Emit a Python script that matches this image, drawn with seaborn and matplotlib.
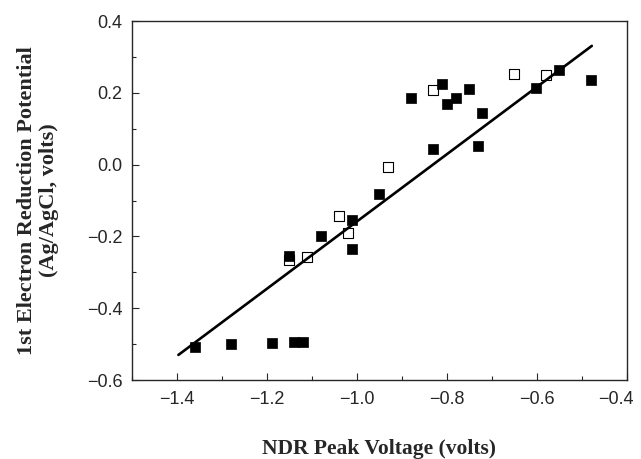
import numpy as np
import pandas as pd
import matplotlib
matplotlib.use("Agg")
import matplotlib.pyplot as plt
from matplotlib.ticker import MultipleLocator
import seaborn as sns

# filled squares
filled_x = [-1.360, -1.280, -1.190, -1.139, -1.119, -1.150, -1.080, -1.010, -1.010,
            -0.950, -0.880, -0.810, -0.801, -0.780, -0.750, -0.722, -0.830, -0.730,
            -0.601, -0.552, -0.480]
filled_y = [-0.507, -0.500, -0.498, -0.495, -0.495, -0.255, -0.199, -0.154, -0.235,
            -0.083, 0.185, 0.225, 0.168, 0.186, 0.210, 0.143, 0.043, 0.052,
            0.213, 0.263, 0.235]

# open squares
open_x = [-1.150, -1.110, -1.040, -1.019, -0.930, -0.830, -0.650, -0.580]
open_y = [-0.265, -0.258, -0.143, -0.189, -0.006, 0.208, 0.254, 0.249]

# fitted line end points
line_x = [-1.397, -0.478]
line_y = [-0.530, 0.331]

filled = pd.DataFrame({"x": filled_x, "y": filled_y})
opened = pd.DataFrame({"x": open_x, "y": open_y})
fit = pd.DataFrame({"x": line_x, "y": line_y})

sns.set_style("ticks")
plt.rcParams["font.family"] = ["Liberation Sans", "DejaVu Sans"]

fig = plt.figure(figsize=(6.41, 4.59), dpi=100)
ax = fig.add_axes([0.206, 0.172, 0.772, 0.782])

sns.scatterplot(data=opened, x="x", y="y", marker="s", s=55, color="white",
                edgecolor="black", linewidth=0.8, ax=ax, zorder=2)
sns.scatterplot(data=filled, x="x", y="y", marker="s", s=55, color="black",
                edgecolor="black", linewidth=0.5, ax=ax, zorder=3)
sns.lineplot(data=fit, x="x", y="y", color="black", linewidth=1.9, ax=ax,
             zorder=4)

ax.set_xlim(-1.5, -0.4)
ax.set_ylim(-0.6, 0.4)
ax.xaxis.set_major_locator(MultipleLocator(0.2))
ax.xaxis.set_minor_locator(MultipleLocator(0.1))
ax.yaxis.set_major_locator(MultipleLocator(0.2))
ax.yaxis.set_minor_locator(MultipleLocator(0.1))
ax.tick_params(which="both", direction="in", top=False, right=False,
               labelsize=13, width=0.8)
ax.tick_params(which="major", length=5)
ax.tick_params(axis="y", pad=7)
ax.tick_params(axis="x", pad=8)
ax.tick_params(which="minor", length=3)
for sp in ax.spines.values():
    sp.set_linewidth(1.0)
    sp.set_visible(True)


def fmt_x(v, p):
    # the last label is drawn by hand so it stays inside the figure
    if abs(v + 0.4) < 1e-6:
        return ""
    return f"{v:.1f}".replace("-", "\u2212")


ax.xaxis.set_major_formatter(plt.FuncFormatter(fmt_x))
ax.yaxis.set_major_formatter(plt.FuncFormatter(lambda v, p: f"{v:.1f}".replace("-", "\u2212")))
ax.annotate("\u22120.4", xy=(-0.4, 0), xycoords=("data", "axes fraction"),
            xytext=(-8, -8), textcoords="offset points", ha="center", va="top",
            fontsize=13)

ax.set_xlabel("NDR Peak Voltage (volts)", fontsize=15.5, fontweight="bold",
              family="Liberation Serif", labelpad=22)
ax.set_ylabel("1st Electron Reduction Potential\n(Ag/AgCl, volts)", fontsize=16,
              fontweight="bold", family="Liberation Serif", labelpad=20,
              linespacing=1.1)

fig.savefig("out.png", dpi=100)
